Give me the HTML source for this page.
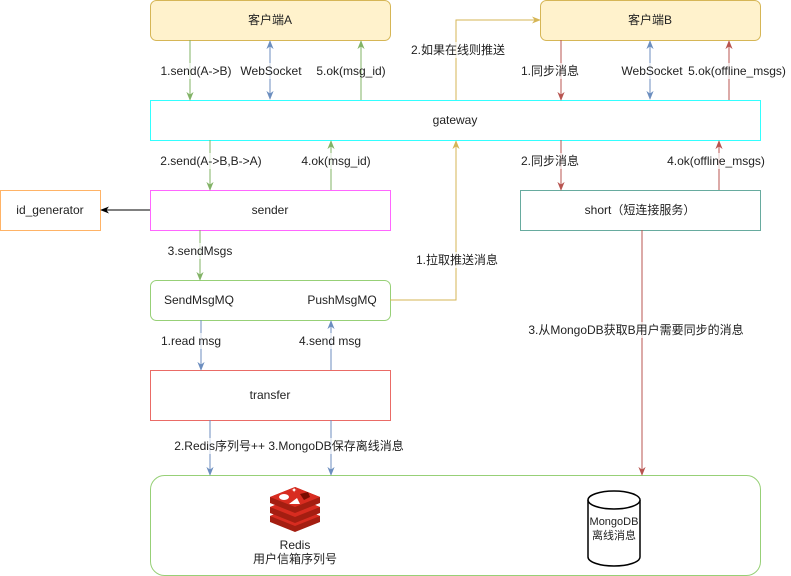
<!DOCTYPE html>
<html><head><meta charset="utf-8"><style>
html,body{margin:0;padding:0;background:#fff}
svg{display:block}
text{font-family:"Liberation Sans","Noto Sans CJK SC",sans-serif;font-size:12px;fill:#222;text-anchor:middle;dominant-baseline:central}
.lb rect{fill:#fff;opacity:0.7}
</style></head><body>
<svg width="791" height="576" viewBox="0 0 791 576" xmlns="http://www.w3.org/2000/svg">
<defs>
<marker id="g" viewBox="0 0 10 10" refX="9" refY="5" markerWidth="9" markerHeight="9" markerUnits="userSpaceOnUse" orient="auto-start-reverse"><path d="M0,1 L10,5 L0,9 L3,5z" fill="#82b366"/></marker>
<marker id="b" viewBox="0 0 10 10" refX="9" refY="5" markerWidth="9" markerHeight="9" markerUnits="userSpaceOnUse" orient="auto-start-reverse"><path d="M0,1 L10,5 L0,9 L3,5z" fill="#6c8ebf"/></marker>
<marker id="r" viewBox="0 0 10 10" refX="9" refY="5" markerWidth="9" markerHeight="9" markerUnits="userSpaceOnUse" orient="auto-start-reverse"><path d="M0,1 L10,5 L0,9 L3,5z" fill="#b85450"/></marker>
<marker id="y" viewBox="0 0 10 10" refX="9" refY="5" markerWidth="9" markerHeight="9" markerUnits="userSpaceOnUse" orient="auto-start-reverse"><path d="M0,1 L10,5 L0,9 L3,5z" fill="#d6b656"/></marker>
<marker id="k" viewBox="0 0 10 10" refX="9" refY="5" markerWidth="9" markerHeight="9" markerUnits="userSpaceOnUse" orient="auto-start-reverse"><path d="M0,1 L10,5 L0,9 L3,5z" fill="#000"/></marker>
</defs>
<rect x="150.5" y="0.5" width="240" height="40" rx="6" fill="#fff2cc" stroke="#d6b656"/>
<text x="270" y="20">客户端A</text>
<rect x="540.5" y="0.5" width="220" height="40" rx="6" fill="#fff2cc" stroke="#d6b656"/>
<text x="650" y="20">客户端B</text>
<rect x="150.5" y="100.5" width="610" height="40" fill="#fff" stroke="#33ffff"/>
<text x="455" y="120">gateway</text>
<rect x="150.5" y="190.5" width="240" height="40" fill="#fff" stroke="#ff66ff"/>
<text x="270" y="210">sender</text>
<rect x="520.5" y="190.5" width="240" height="40" fill="#fff" stroke="#67ab9f"/>
<text x="640" y="210">short（短连接服务）</text>
<rect x="0.5" y="190.5" width="100" height="40" fill="#fff" stroke="#ffb366"/>
<text x="50" y="210">id_generator</text>
<rect x="150.5" y="280.5" width="240" height="40" rx="6" fill="#fff" stroke="#97d077"/>
<text x="199" y="300">SendMsgMQ</text>
<text x="342" y="300">PushMsgMQ</text>
<rect x="150.5" y="370.5" width="240" height="50" fill="#fff" stroke="#ea6b66"/>
<text x="270" y="395">transfer</text>
<rect x="150.5" y="475.5" width="610" height="100" rx="14" fill="#fff" stroke="#97d077"/>
<g fill="none" stroke-width="1">
<line x1="190" y1="40" x2="190" y2="100" stroke="#82b366" marker-end="url(#g)"/>
<line x1="270" y1="41" x2="270" y2="99" stroke="#6c8ebf" marker-start="url(#b)" marker-end="url(#b)"/>
<line x1="361" y1="100" x2="361" y2="41" stroke="#82b366" marker-end="url(#g)"/>
<line x1="561" y1="40" x2="561" y2="100" stroke="#b85450" marker-end="url(#r)"/>
<line x1="650" y1="41" x2="650" y2="99" stroke="#6c8ebf" marker-start="url(#b)" marker-end="url(#b)"/>
<line x1="729" y1="100" x2="729" y2="41" stroke="#b85450" marker-end="url(#r)"/>
<polyline points="456,100 456,20 540,20" stroke="#d6b656" marker-end="url(#y)"/>
<line x1="210" y1="140" x2="210" y2="190" stroke="#82b366" marker-end="url(#g)"/>
<line x1="331" y1="190" x2="331" y2="141" stroke="#82b366" marker-end="url(#g)"/>
<line x1="561" y1="140" x2="561" y2="190" stroke="#b85450" marker-end="url(#r)"/>
<line x1="719" y1="190" x2="719" y2="141" stroke="#b85450" marker-end="url(#r)"/>
<line x1="150" y1="210" x2="101" y2="210" stroke="#000" marker-end="url(#k)"/>
<line x1="200" y1="230" x2="200" y2="280" stroke="#82b366" marker-end="url(#g)"/>
<polyline points="390,300 456,300 456,141" stroke="#d6b656" marker-end="url(#y)"/>
<line x1="201" y1="320" x2="201" y2="370" stroke="#6c8ebf" marker-end="url(#b)"/>
<line x1="331" y1="370" x2="331" y2="321" stroke="#6c8ebf" marker-end="url(#b)"/>
<line x1="210" y1="420" x2="210" y2="475" stroke="#6c8ebf" marker-end="url(#b)"/>
<line x1="331" y1="420" x2="331" y2="475" stroke="#6c8ebf" marker-end="url(#b)"/>
<line x1="642" y1="230" x2="642" y2="475" stroke="#b85450" marker-end="url(#r)"/>
</g>
<g class="lb">
<rect x="158" y="63" width="76" height="16"/><text x="196" y="71">1.send(A-&gt;B)</text>
<rect x="240" y="63" width="62" height="16"/><text x="271" y="71">WebSocket</text>
<text x="351" y="71">5.ok(msg_id)</text>
<rect x="425" y="42" width="66" height="16"/><text x="458" y="50">2.如果在线则推送</text>
<rect x="520" y="63" width="60" height="16"/><text x="550" y="71">1.同步消息</text>
<rect x="622" y="63" width="60" height="16"/><text x="652" y="71">WebSocket</text>
<rect x="688" y="63" width="98" height="16"/><text x="737" y="71">5.ok(offline_msgs)</text>
<rect x="158" y="153" width="106" height="16"/><text x="211" y="161">2.send(A-&gt;B,B-&gt;A)</text>
<rect x="300" y="153" width="72" height="16"/><text x="336" y="161">4.ok(msg_id)</text>
<rect x="520" y="153" width="60" height="16"/><text x="550" y="161">2.同步消息</text>
<rect x="666" y="153" width="100" height="16"/><text x="716" y="161">4.ok(offline_msgs)</text>
<rect x="166" y="243" width="68" height="16"/><text x="200" y="251">3.sendMsgs</text>
<rect x="418" y="252" width="78" height="16"/><text x="457" y="260">1.拉取推送消息</text>
<rect x="160" y="333" width="62" height="16"/><text x="191" y="341">1.read msg</text>
<rect x="298" y="333" width="64" height="16"/><text x="330" y="341">4.send msg</text>
<rect x="526" y="322" width="220" height="16"/><text x="636" y="330">3.从MongoDB获取B用户需要同步的消息</text>
<rect x="174" y="438" width="232" height="16"/><text x="289" y="446">2.Redis序列号++ 3.MongoDB保存离线消息</text>
</g>
<g>
<path d="M270,516 L295,506 L320,516 L320,522 L295,532 L270,522z" fill="#a41e11"/>
<path d="M270,516 L295,526 L320,516 L295,506z" fill="#d82c20"/>
<path d="M270,507 L295,497 L320,507 L320,513 L295,523 L270,513z" fill="#a41e11"/>
<path d="M270,507 L295,517 L320,507 L295,497z" fill="#d82c20"/>
<path d="M270,497 L295,487 L320,497 L320,503 L295,513 L270,503z" fill="#a41e11"/>
<path d="M270,497 L295,507 L320,497 L295,487z" fill="#d82c20"/>
<ellipse cx="284" cy="497" rx="5" ry="3" fill="#fff"/>
<path d="M289,504 L300,504 L297,498z" fill="#fff"/>
<path d="M300,494 L308,492 L310,497 L304,500z" fill="#7a0c00"/>
<text x="294" y="491" style="fill:#fff;font-size:7px">✦</text>
</g>
<text x="295" y="545">Redis</text>
<text x="295" y="559">用户信箱序列号</text>
<path d="M588,500 L588,557 A26,9 0 0 0 640,557 L640,500" fill="#fff" stroke="#000" stroke-width="1.5"/>
<ellipse cx="614" cy="500" rx="26" ry="9" fill="#fff" stroke="#000" stroke-width="1.5"/>
<text x="614" y="522" style="font-size:11px">MongoDB</text>
<text x="614" y="536" style="font-size:11px">离线消息</text>
</svg>
</body></html>
